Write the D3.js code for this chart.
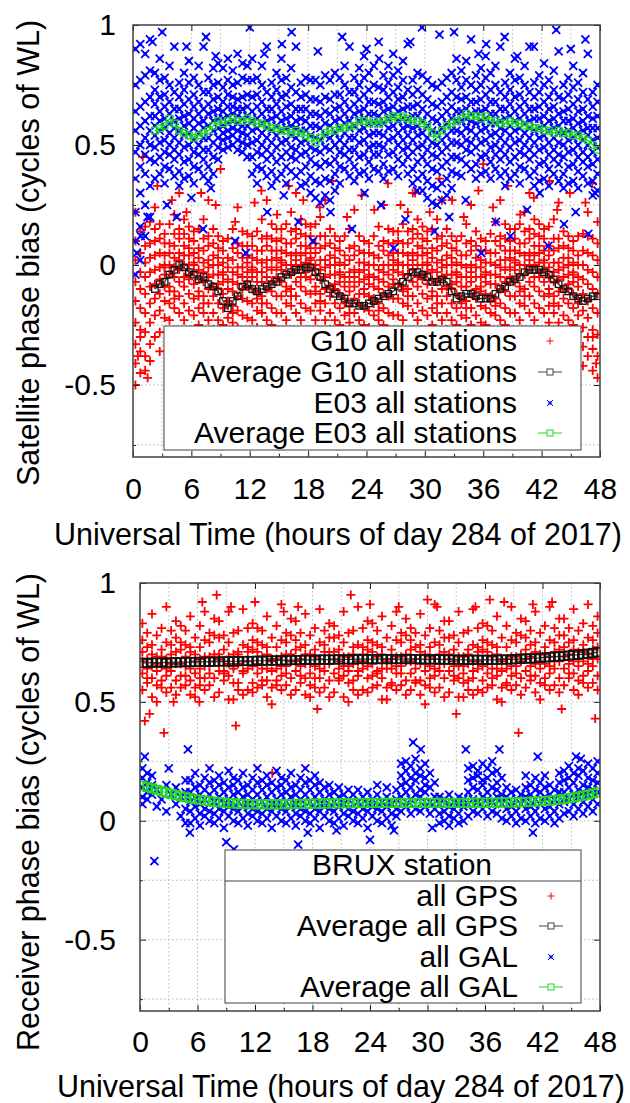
<!DOCTYPE html>
<html>
<head>
<meta charset="utf-8">
<script src="https://cdn.jsdelivr.net/npm/d3@7.9.0/dist/d3.min.js"></script>
<style>
  body { margin: 0; background: #fff; }
  text { font-family: "Liberation Sans", Arial, Helvetica, sans-serif; }
</style>
</head>
<body>
<svg id="chart" width="630" height="1103"></svg>
<script>
// epochs (hours of day 284) shared by every series
const epochs = [0.25,0.75,1.25,1.75,2.25,2.75,3.25,3.75,4.25,4.75,5.25,5.75,
  6.25,6.75,7.25,7.75,8.25,8.75,9.25,9.75,10.25,10.75,11.25,11.75,
  12.25,12.75,13.25,13.75,14.25,14.75,15.25,15.75,16.25,16.75,17.25,17.75,
  18.25,18.75,19.25,19.75,20.25,20.75,21.25,21.75,22.25,22.75,23.25,23.75,
  24.25,24.75,25.25,25.75,26.25,26.75,27.25,27.75,28.25,28.75,29.25,29.75,
  30.25,30.75,31.25,31.75,32.25,32.75,33.25,33.75,34.25,34.75,35.25,35.75,
  36.25,36.75,37.25,37.75,38.25,38.75,39.25,39.75,40.25,40.75,41.25,41.75,
  42.25,42.75,43.25,43.75,44.25,44.75,45.25,45.75,46.25,46.75,47.25,47.75];
const xTicks = [0, 6, 12, 18, 24, 30, 36, 42, 48];
const yTicks = [-0.5, 0, 0.5, 1];

// satellite panel (values in hundredths of a cycle)
const g10Avg = [null,null,null,null,-10,-8,-7,-4,-2,0,-1,-3,
  -4,-6,-5,-8,-9,-11,-15,-18,-15,-13,-9,-8,
  -10,-11,-10,-9,-8,-7,-5,-4,-3,-2,-2,-1,
  -1,-3,-5,-8,-10,-12,-13,-14,-16,-16,-17,-17,
  -16,-15,-14,-13,-12,-11,-9,-7,-5,-3,-3,-4,
  -5,-7,-7,-6,-7,-11,-14,-13,-12,-12,-13,-14,
  -14,-14,-12,-10,-9,-7,-6,-5,-3,-2,-2,-2,
  -3,-4,-6,-8,-10,-11,-13,-14,-15,-14,-13,-13];
const e03Avg = [null,null,null,null,56,57,58,61,59,56,55,54,
  53,54,55,56,58,60,59,60,61,60,60,61,
  60,59,59,58,57,57,56,56,55,56,55,54,
  53,51,53,55,56,56,57,57,58,58,60,60,
  59,60,59,60,61,62,61,62,61,60,60,59,
  58,55,53,56,58,59,60,61,63,62,62,61,
  62,60,60,59,59,60,59,59,58,58,57,57,
  56,56,55,56,55,55,54,54,53,52,50,48];
const g10Rows = [
  [-50,-41,-33,-24,-15,-7,2,10,22],[-45,-36,-27,-18,-10,-3,5,14,-30],[-38,-28,-20,-12,-5,1,8,16,-44],[-33,-24,-16,-9,-3,3,9,18,-40],
  [-30,-21,-14,-8,-2,4,10,15,24],[-28,-19,-12,-6,-1,5,11,17,-36],[-22,-15,-9,-4,0,4,9,13,-1],[-23,-16,-9,-4,0,5,9,17,-11],
  [-18,-11,-5,-1,3,8,13,21,-14],[-20,-13,-7,-2,2,5,11,15,30],[-23,-16,-9,-5,0,4,8,13,19],[-19,-12,-6,0,4,7,11,16,-4],
  [-21,-14,-8,-3,1,5,10,14,0],[-25,-18,-11,-6,-2,3,7,15,-13],[-20,-13,-7,-3,1,6,11,19,-16],[-23,-16,-10,-5,-1,2,8,12,27],
  [-27,-20,-13,-9,-4,0,4,9,15],[-23,-16,-10,-4,0,3,7,12,-8],[-25,-18,-12,-7,-3,1,6,10,-4],[-29,-22,-15,-10,-6,-1,3,11,-17],
  [-24,-17,-11,-7,-3,2,7,15,-20],[-26,-19,-13,-8,-4,-1,5,9,24],[-28,-21,-14,-10,-5,-1,3,8,14],[-22,-15,-9,-3,1,4,8,13,-7],
  [-23,-16,-10,-5,-1,3,8,12,-2],[-26,-19,-12,-7,-3,2,6,14,-14],[-20,-13,-7,-3,1,6,11,19,-16],[-23,-16,-10,-5,-1,2,8,12,27],
  [-25,-18,-11,-7,-2,2,6,11,17],[-20,-13,-7,-1,3,6,10,15,-5],[-20,-13,-7,-2,2,6,11,15,1],[-23,-16,-9,-4,0,5,9,17,-11],
  [-17,-10,-4,0,4,9,14,22,-13],[-20,-13,-7,-2,2,5,11,15,30],[-23,-16,-9,-5,0,4,8,13,19],[-18,-11,-5,1,5,8,12,17,-3],
  [-19,-12,-6,-1,3,7,12,16,2],[-23,-16,-9,-4,0,5,9,17,-11],[-19,-12,-6,-2,2,7,12,20,-15],[-23,-16,-10,-5,-1,2,8,12,27],
  [-27,-20,-13,-9,-4,0,4,9,15],[-23,-16,-10,-4,0,3,7,12,-8],[-25,-18,-12,-7,-3,1,6,10,-4],[-28,-21,-14,-9,-5,0,4,12,-16],
  [-24,-17,-11,-7,-3,2,7,15,-20],[-27,-20,-14,-9,-5,-2,4,8,23],[-30,-23,-16,-12,-7,-3,1,6,12],[-25,-18,-12,-6,-2,1,5,10,-10],
  [-26,-19,-13,-8,-4,0,5,9,-5],[-28,-21,-14,-9,-5,0,4,12,-16],[-23,-16,-10,-6,-2,3,8,16,-19],[-25,-18,-12,-7,-3,0,6,10,25],
  [-27,-20,-13,-9,-4,0,4,9,15],[-21,-14,-8,-2,2,5,9,14,-6],[-21,-14,-8,-3,1,5,10,14,0],[-23,-16,-9,-4,0,5,9,17,-11],
  [-17,-10,-4,0,4,9,14,22,-13],[-20,-13,-7,-2,2,5,11,15,30],[-23,-16,-9,-5,0,4,8,13,19],[-19,-12,-6,0,4,7,11,16,-4],
  [-21,-14,-8,-3,1,5,10,14,0],[-25,-18,-11,-6,-2,3,7,15,-13],[-20,-13,-7,-3,1,6,11,19,-16],[-23,-16,-10,-5,-1,2,8,12,27],
  [-27,-20,-13,-9,-4,0,4,9,15],[-23,-16,-10,-4,0,3,7,12,-8],[-25,-18,-12,-7,-3,1,6,10,-4],[-28,-21,-14,-9,-5,0,4,12,-16],
  [-22,-15,-9,-5,-1,4,9,17,-18],[-25,-18,-12,-7,-3,0,6,10,25],[-28,-21,-14,-10,-5,-1,3,8,14],[-24,-17,-11,-5,-1,2,6,11,-9],
  [-25,-18,-12,-7,-3,1,6,10,-4],[-27,-20,-13,-8,-4,1,5,13,-15],[-21,-14,-8,-4,0,5,10,18,-17],[-23,-16,-10,-5,-1,2,8,12,27],
  [-25,-18,-11,-7,-2,2,6,11,17],[-20,-13,-7,-1,3,6,10,15,-5],[-20,-13,-7,-2,2,6,11,15,1],[-23,-16,-9,-4,0,5,9,17,-11],
  [-17,-10,-4,0,4,9,14,22,-13],[-20,-13,-7,-2,2,5,11,15,30],[-23,-16,-9,-5,0,4,8,13,19],[-18,-11,-5,1,5,8,12,17,-3],
  [-20,-13,-7,-2,2,6,11,15,1],[-24,-17,-10,-5,-1,4,8,16,-12],[-20,-13,-7,-3,1,6,11,19,-16],[-24,-17,-11,-6,-2,1,7,11,26],
  [-28,-21,-14,-10,-5,-1,3,8,14],[-23,-16,-10,-4,0,3,7,12,-8],[-25,-18,-12,-7,-3,1,6,10,-4],[-28,-21,-14,-9,-5,0,4,12,-16],
  [-34,-26,-19,-12,-6,0,6,13,-42],[-38,-30,-22,-15,-8,-2,5,12,22],[-44,-35,-27,-18,-10,-3,4,11,-30],[-47,-38,-29,-20,-12,-5,2,9,18]];
const g10Extra = [[2.5,33],[4,27],[5.5,22],[7,30],[8.5,25],[10.5,18],[12.5,26],[13.2,31],[14.8,21],[16,33],[17.5,27],
  [19.2,24],[20.5,35],[22,20],[23.5,29],[24.8,23],[26.2,34],[27.5,25],[29,30],[30.5,22],[31.5,36],[32.8,27],[34,20],
  [35.5,31],[37,24],[38.5,33],[39.8,21],[41.2,28],[42.8,35],[43.6,23],[44.9,30],[46.5,26],[47.2,34],[1,45],[9,40],
  [36,42],[0.5,-38],[1.5,-47],[47.6,-41]];
const e03Rows = [
  [-4,10,22,36,47,56,64,75,90],[2,16,30,41,50,58,66,77,92],[12,25,38,46,53,60,68,79,88],[20,33,44,50,56,62,70,81,94],
  [36,43,49,54,58,62,67,73,80],[38,45,51,56,60,64,70,77,86],[34,41,47,52,57,61,66,71,78],[40,46,50,55,59,63,68,75,83],
  [37,44,48,53,57,60,65,72,91],[33,39,46,51,56,61,65,70,76],[36,43,49,54,58,62,67,73,80],[37,44,50,55,59,63,69,76,85],
  [34,41,47,52,57,61,66,71,78],[40,46,50,55,59,63,68,75,83],[37,44,48,53,57,60,65,72,91],[35,41,48,53,58,63,67,72,78],
  [38,45,51,56,60,64,69,75,82],[44,49,53,57,61,65,70,76,84],[48,52,55,58,61,64,68,74,82],[49,53,56,59,62,66,71,77,86],
  [50,54,57,60,63,66,70,75,81],[48,52,56,59,62,65,69,76,88],[47,51,55,58,61,65,70,78,84],[45,50,54,58,62,66,71,77,83],
  [38,45,51,56,60,64,70,77,86],[34,41,47,52,57,61,66,71,78],[40,46,50,55,59,63,68,75,83],[37,44,48,53,57,60,65,72,91],
  [33,39,46,51,56,61,65,70,76],[36,43,49,54,58,62,67,73,80],[38,45,51,56,60,64,70,77,86],[34,41,47,52,57,61,66,71,78],
  [39,45,49,54,58,62,67,74,82],[37,44,48,53,57,60,65,72,91],[33,39,46,51,56,61,65,70,76],[34,41,47,52,56,60,65,71,78],
  [30,37,44,49,54,58,63,69,77],[28,35,42,48,53,58,63,69,77],[26,34,41,47,52,57,62,68,75],[29,36,43,49,54,59,64,70,79],
  [27,35,42,48,53,58,63,69,77],[31,38,44,50,55,60,65,71,80],[34,41,47,52,57,61,66,71,78],[40,46,50,55,59,63,68,75,83],
  [37,44,48,53,57,60,65,72,91],[35,41,48,53,58,63,67,72,78],[38,45,51,56,60,64,69,75,82],[39,46,52,57,61,65,71,78,87],
  [36,43,49,54,59,63,68,73,80],[40,46,50,55,59,63,68,75,83],[39,46,50,55,59,62,67,74,93],[36,42,49,54,59,64,68,73,79],
  [39,46,52,57,61,65,70,76,83],[40,47,53,58,62,66,72,79,88],[37,44,50,55,60,64,69,74,81],[42,48,52,57,61,65,70,77,85],
  [38,45,49,54,58,61,66,73,92],[34,40,47,52,57,62,66,71,77],[36,43,49,54,58,62,67,73,80],[31,38,45,50,55,60,65,71,79],
  [28,35,42,48,53,58,63,69,77],[26,33,40,46,51,56,61,67,75],[25,32,39,45,50,55,60,66,74],[27,34,41,47,52,57,62,68,76],
  [29,36,43,49,54,59,64,70,78],[32,39,45,51,56,61,66,72,80],[38,45,51,56,60,64,70,77,86],[37,44,50,55,60,64,69,74,81],
  [42,48,52,57,61,65,70,77,85],[40,47,51,56,60,63,68,75,94],[36,42,49,54,59,64,68,73,79],[38,45,51,56,60,64,69,75,82],
  [39,46,52,57,61,65,71,78,87],[36,43,49,54,59,63,68,73,80],[40,46,50,55,59,63,68,75,83],[37,44,48,53,57,60,65,72,91],
  [33,39,46,51,56,61,65,70,76],[36,43,49,54,58,62,67,73,80],[38,45,51,56,60,64,70,77,86],[34,41,47,52,57,61,66,71,78],
  [40,46,50,55,59,63,68,75,83],[37,44,48,53,57,60,65,72,91],[33,39,46,51,56,61,65,70,76],[35,42,48,53,57,61,66,72,79],
  [36,43,49,54,58,62,68,75,84],[33,40,46,51,56,60,65,70,77],[38,44,48,53,57,61,66,73,81],[35,42,46,51,55,58,63,70,89],
  [32,38,45,50,55,60,64,69,75],[34,41,47,52,56,60,65,71,78],[35,42,48,53,57,61,67,74,83],[32,39,45,50,55,59,64,69,76],
  [37,43,47,52,56,60,65,72,80],[34,41,45,50,54,57,62,69,88],[29,35,42,47,52,57,61,66,72],[31,38,44,49,53,57,62,68,75]];
const e03Extra = [[2,93],[3,97],[5.5,91],[7.5,95],[8.5,87],[12,99],[13.5,88],[15.3,92],[16.3,97],[19,89],[21.5,95],
  [24,90],[25.3,86],[28.5,93],[29.7,99],[31.5,96],[33,97],[35.5,88],[36.3,92],[38.2,95],[39.5,87],[41.2,91],[43.5,98],
  [45,90],[46.5,94],[0.4,5],[0.8,12],[1.5,20],[3.5,25],[4.5,20],[6,28],[7.2,15],[8,32],[10.5,10],[11.6,5],[13.8,22],
  [15.5,29],[17,18],[18.5,10],[20.3,22],[22.5,15],[23.8,30],[25.5,25],[26.8,7],[28,19],[29.2,31],[31,14],[32.5,20],
  [34.2,27],[35.8,5],[37.3,18],[38.8,12],[40.5,23],[41.8,30],[42.7,8],[44.3,17],[45.5,22],[46.8,13],[47.5,30]];

// BRUX receiver panel (values in hundredths of a cycle)
const gpsAvg = [66.4,66.4,66.5,66.5,66.5,66.6,66.6,66.6,66.7,66.7,66.7,66.8,
  66.8,66.8,66.9,66.9,67.0,67.0,67.0,67.1,67.1,67.2,67.2,67.2,
  67.3,67.3,67.4,67.4,67.4,67.5,67.5,67.6,67.6,67.6,67.7,67.7,
  67.7,67.8,67.8,67.8,67.8,67.9,67.9,67.9,67.9,68.0,68.0,68.0,
  68.0,68.0,68.0,68.0,68.0,68.0,68.0,68.0,68.0,68.0,68.0,67.9,
  67.9,67.9,67.9,67.8,67.8,67.8,67.8,67.7,67.7,67.7,67.7,67.7,
  67.7,67.7,67.7,67.8,67.8,67.9,68.0,68.1,68.2,68.3,68.4,68.5,
  68.7,68.8,69.0,69.1,69.3,69.5,69.7,69.9,70.1,70.3,70.6,70.9];
const galAvg = [14.8,14.2,13.6,13.0,12.4,11.8,11.3,10.8,10.3,9.9,9.5,9.1,
  8.8,8.5,8.2,8.0,7.8,7.6,7.4,7.3,7.2,7.1,7.0,7.0,
  6.9,6.9,6.9,6.9,6.9,7.0,7.0,7.0,7.1,7.1,7.1,7.2,
  7.2,7.2,7.3,7.3,7.3,7.4,7.4,7.4,7.4,7.5,7.5,7.5,
  7.5,7.5,7.5,7.5,7.5,7.5,7.5,7.5,7.5,7.5,7.5,7.5,
  7.5,7.5,7.5,7.5,7.5,7.5,7.5,7.5,7.5,7.6,7.6,7.6,
  7.6,7.6,7.6,7.7,7.7,7.7,7.8,7.8,7.9,8.0,8.1,8.2,
  8.3,8.5,8.7,8.9,9.2,9.5,9.8,10.2,10.6,11.0,11.5,12.0];
const gpsRows = [
  [55,62,67,71,76,83],[58,64,68,73,79,60],[52,60,65,70,74,87],[57,63,66,69,78,50],[59,65,69,72,81,56],[54,61,64,68,75,90],[56,63,70,74,80,66],[53,59,66,71,77,84],
  [56,61,66,72,75,82],[57,65,69,74,80,61],[53,59,64,71,73,86],[56,62,67,70,77,52],[60,64,68,73,82,57],[55,60,65,69,76,88],[57,62,69,75,79,65],[52,60,67,70,78,85],
  [54,63,68,70,77,84],[59,63,67,72,78,62],[51,61,66,69,75,88],[58,64,65,70,79,51],[58,66,70,71,80,55],[53,62,63,67,74,89],[55,64,71,73,81,67],[54,58,65,72,76,83],
  [56,62,66,71,75,81],[57,64,69,74,80,59],[52,59,64,70,73,86],[56,63,67,68,77,49],[59,64,68,73,82,57],[55,61,65,69,76,91],[57,62,70,75,79,65],[53,60,67,70,78,85],
  [55,63,67,72,76,84],[58,65,68,73,79,61],[53,60,66,70,74,87],[57,62,66,70,78,52],[60,65,69,72,81,56],[54,60,64,68,75,89],[56,63,71,74,80,66],[52,59,66,71,77,83],
  [54,62,68,71,77,82],[59,64,67,72,78,60],[52,61,65,69,75,88],[58,63,65,69,79,50],[59,66,70,73,80,55],[53,61,63,67,74,90],[55,64,70,73,81,67],[54,60,65,72,76,84],
  [56,61,66,71,75,83],[57,63,69,74,80,62],[51,60,64,70,73,86],[56,64,67,68,77,51],[58,64,68,72,82,57],[55,62,65,69,76,88],[57,62,69,75,79,65],[53,59,67,70,78,85],
  [55,62,67,72,76,81],[58,64,68,73,79,59],[53,59,66,71,74,87],[57,63,66,70,78,49],[60,65,69,73,81,56],[54,61,64,68,75,91],[56,63,70,74,80,66],[52,60,66,71,77,84],
  [54,63,68,70,77,84],[59,65,67,72,78,61],[52,60,65,69,75,88],[58,62,65,69,79,52],[59,66,70,72,80,55],[53,60,63,67,74,89],[55,64,71,73,81,67],[54,59,65,72,76,83],
  [56,62,66,71,75,82],[57,64,69,74,80,60],[51,61,64,70,73,86],[56,63,67,68,77,50],[58,64,68,73,82,57],[55,61,65,69,76,90],[57,62,69,75,79,65],[53,60,67,70,78,85],
  [56,63,68,72,77,84],[59,65,69,74,80,61],[54,61,66,71,75,88],[58,64,67,70,79,51],[60,66,70,73,82,57],[55,62,65,69,76,90],[57,64,71,75,81,67],[54,60,67,72,78,85],
  [57,64,69,73,78,85],[60,66,70,75,81,62],[55,62,67,72,76,89],[59,65,68,71,80,53],[61,67,71,74,83,58],[56,63,66,70,77,91],[58,65,72,76,82,68],[55,61,68,73,79,86]];
const gpsExtra = [[0.5,42],[1,45],[2.5,37],[3.5,50],[6.2,50],[6.5,92],[8,95],[9.5,90],[10,40],[12,92],[13.8,20],
  [15,88],[16.5,90],[18.5,47],[22,95],[24,91],[27,90],[30,93],[31,90],[33,45],[35,90],[36.5,93],[38,92],[39.5,37],
  [41,91],[43,92],[44,47],[47.5,43]];
const galRows = [
  [10,14,18,22,7],[12,16,20,9],[11,15,19],[6,13],[9],[4,15],[11],[7,14],[2,10],[-1,5,12,17],
  [-1,4,8,12,17],[1,6,10,14,20],[-2,3,7,11,15],[2,5,9,13,18],[0,4,11,16,22],[-1,3,8,13,17],[1,5,10,15,19],[-3,4,7,12,16],
  [2,6,9,14,21],[0,5,11,15,18],[-1,4,8,12,17],[1,6,10,14,20],[-2,3,7,11,15],[2,5,9,13,18],[0,4,11,16,22],[-1,3,8,13,17],
  [1,5,10,15,19],[-3,4,7,12,16],[2,6,9,14,21],[0,5,11,15,18],[-1,4,8,12,17],[1,6,10,14,20],[-2,3,7,11,15],[2,5,9,13,18],
  [0,4,11,16,22],[-1,3,8,13,17],[1,5,10,15,19],[-3,4,7,12,16],[2,6,9,14],[0,5,11,15],[-1,4,8,12],[1,6,10,14],
  [-2,3,7,11],[2,5,9,13],[0,4,11],[-1,3,8,13],[1,5,10],[-3,4,7,12],[2,6,9],[0,5,11,15],
  [-1,4,8],[1,6,10,14],[-2,3,7],[2,5,9,13],[4,10,15,19,24],[6,12,16,21,25],[3,9,14,18,23],[5,11,17,20,26],
  [4,10,13,19,22],[6,12,15,18,24],[3,8,14,20],[5,10,16],[-1,3,7,10],[0,4,9],[-2,2,6,11],[1,5,8],
  [-1,3,7,10],[0,6,9],[2,7,12,17,22],[4,9,14,18,23],[3,8,13,19,21],[5,10,15,17,24],[2,9,12,18,22],[4,8,14,20,25],
  [3,10,13,16,21],[1,7,11,18],[0,5,10,14],[2,6,12],[-1,4,9,13],[1,7,11],[0,5,10,14,19],[2,6,11,15],
  [-1,4,9,13,18],[1,7,12,16],[0,5,10,14,19],[2,6,11,15],[-1,4,9,13],[1,7,12,16,20],[3,8,12,17,21],[4,9,14,18,23],
  [2,7,11,16,20],[5,10,13,19,22],[3,8,12,15,21],[6,11,14,18,24],[4,9,13,17,22],[7,12,16,20,25]];
const galExtra = [[0.5,27],[1.5,-17],[5,30],[5.2,-5],[9,-9],[9.8,-12],[16.5,-10],[17.5,-5],[20.5,-4],[24,-8],
  [26.5,-4],[28.5,33],[29.3,30],[34,30],[37.5,30],[41,-5],[41.5,27],[45.5,27],[46,26],[3,22],[30.5,-3]];

const legendTop = ['G10 all stations', 'Average G10 all stations', 'E03 all stations', 'Average E03 all stations'];
const legendBottom = ['all GPS', 'Average all GPS', 'all GAL', 'Average all GAL'];

const RED = '#ff0000', BLUE = '#0000ff', GREEN = '#22d822', DARK = '#111111', FRAME = '#404040';
const svg = d3.select('#chart');

const plus = (x, y, s) => `M${x - s},${y}H${x + s}M${x},${y - s}V${y + s}`;
const cross = (x, y, s) => `M${x - s},${y - s}L${x + s},${y + s}M${x - s},${y + s}L${x + s},${y - s}M${x - 1},${y - 1}h2v2h-2z`;

function scatterPoints(rows, extra) {
  const pts = [];
  rows.forEach((vals, i) => vals.forEach(v => pts.push([epochs[i], v / 100])));
  extra.forEach(([h, v]) => pts.push([h, v / 100]));
  return pts;
}
function avgPoints(vals) {
  return vals.map((v, i) => [epochs[i], v]).filter(d => d[1] != null).map(d => [d[0], d[1] / 100]);
}

function drawPanel(cfg) {
  const { left, right, top, bottom } = cfg;
  const x = d3.scaleLinear().domain([0, 48]).range([left, right]);
  const y = d3.scaleLinear().domain([-0.8, 1]).range([bottom, top]);
  const g = svg.append('g');

  g.append('clipPath').attr('id', 'clip' + cfg.id).append('rect')
    .attr('x', left).attr('y', top).attr('width', right - left).attr('height', bottom - top);

  // dotted grid every 3 h and every 0.25 cycle
  const grid = g.append('g').attr('stroke', '#b8b8b8').attr('stroke-dasharray', '1.5,2.5');
  grid.selectAll('.gx').data(d3.range(3, 48, 3)).join('line').attr('class', 'gx')
    .attr('x1', d => x(d)).attr('x2', d => x(d)).attr('y1', top).attr('y2', bottom);
  grid.selectAll('.gy').data(d3.range(-0.75, 1, 0.25)).join('line').attr('class', 'gy')
    .attr('y1', d => y(d)).attr('y2', d => y(d)).attr('x1', left).attr('x2', right);

  const plot = g.append('g').attr('clip-path', `url(#clip${cfg.id})`);
  const drawScatter = (pts, color, shape, s, w) => plot.append('g')
    .attr('stroke', color).attr('fill', 'none').attr('stroke-width', w)
    .selectAll('path').data(pts).join('path')
    .attr('d', d => shape(x(d[0]), y(d[1]), s));
  const drawAvg = (pts, color, lineColor, sq, w) => {
    const a = plot.append('g');
    a.append('path').datum(pts).attr('fill', 'none').attr('stroke', lineColor).attr('stroke-width', 1.2)
      .attr('d', d3.line().x(d => x(d[0])).y(d => y(d[1])));
    a.selectAll('rect').data(pts).join('rect')
      .attr('x', d => x(d[0]) - sq / 2).attr('y', d => y(d[1]) - sq / 2)
      .attr('width', sq).attr('height', sq)
      .attr('fill', 'none').attr('stroke', color).attr('stroke-width', w);
  };
  drawScatter(cfg.series[0], RED, plus, 4.5, 1.8);
  drawAvg(cfg.series[1], DARK, '#333', cfg.sq, cfg.sqW);
  drawScatter(cfg.series[2], BLUE, cross, 4, 1.8);
  drawAvg(cfg.series[3], GREEN, GREEN, cfg.sq, cfg.sqW);

  // axes with inward ticks on all four sides
  const fmt = d => String(d);
  const ax = g.append('g').attr('color', '#222');
  ax.append('g').attr('transform', `translate(0,${bottom})`)
    .call(d3.axisBottom(x).tickValues(xTicks).tickFormat(fmt).tickSizeInner(-6).tickSizeOuter(0).tickPadding(cfg.xPad));
  ax.append('g').attr('transform', `translate(0,${bottom})`)
    .call(d3.axisBottom(x).tickValues(d3.range(3, 48, 6)).tickFormat('').tickSizeInner(-3).tickSizeOuter(0));
  ax.append('g').attr('transform', `translate(0,${top})`)
    .call(d3.axisTop(x).tickValues(xTicks).tickFormat('').tickSizeInner(-6).tickSizeOuter(0));
  ax.append('g').attr('transform', `translate(${left},0)`)
    .call(d3.axisLeft(y).tickValues(yTicks).tickFormat(fmt).tickSizeInner(-6).tickSizeOuter(0).tickPadding(cfg.yPad));
  ax.append('g').attr('transform', `translate(${left},0)`)
    .call(d3.axisLeft(y).tickValues([-0.75, -0.25, 0.25, 0.75]).tickFormat('').tickSizeInner(-3).tickSizeOuter(0));
  ax.append('g').attr('transform', `translate(${right},0)`)
    .call(d3.axisRight(y).tickValues(yTicks).tickFormat('').tickSizeInner(-6).tickSizeOuter(0));
  ax.selectAll('.domain').remove();
  ax.selectAll('text').attr('font-size', 30).attr('fill', '#000');

  g.append('rect').attr('x', left).attr('y', top).attr('width', right - left).attr('height', bottom - top)
    .attr('fill', 'none').attr('stroke', FRAME).attr('stroke-width', 1.5);

  g.append('text').attr('transform', `translate(28,${cfg.yTitleY}) rotate(-90)`)
    .attr('text-anchor', 'middle').attr('dy', '0.36em').attr('font-size', 30.5).text(cfg.yTitle);
  g.append('text').attr('x', cfg.xTitleX).attr('y', cfg.xTitleY)
    .attr('text-anchor', 'middle').attr('font-size', 30.5).text('Universal Time (hours of day 284 of 2017)');

  // opaque key box
  const L = cfg.legend;
  const key = g.append('g');
  key.append('rect').attr('x', L.x0).attr('y', L.y0).attr('width', L.x1 - L.x0).attr('height', L.y1 - L.y0)
    .attr('fill', '#fff').attr('stroke', FRAME).attr('stroke-width', 1);
  if (L.header) {
    key.append('text').attr('x', (L.x0 + L.x1) / 2 - 1).attr('y', L.headerY).attr('text-anchor', 'middle')
      .attr('font-size', 30).text(L.header);
    key.append('line').attr('x1', L.x0).attr('x2', L.x1).attr('y1', L.sepY).attr('y2', L.sepY)
      .attr('stroke', FRAME).attr('stroke-width', 1);
  }
  L.labels.forEach((label, i) => {
    const by = L.rows[i], cy = by - 10, sx = L.sampleX;
    key.append('text').attr('x', L.textX).attr('y', by).attr('text-anchor', 'end').attr('font-size', 30).text(label);
    if (i === 0) key.append('path').attr('d', plus(sx, cy, 3.5)).attr('stroke', RED).attr('fill', 'none');
    if (i === 2) key.append('path').attr('d', cross(sx, cy, 3)).attr('stroke', BLUE).attr('fill', 'none');
    if (i === 1 || i === 3) {
      const c = i === 1 ? '#444' : GREEN;
      key.append('line').attr('x1', sx - 12).attr('x2', sx + 12).attr('y1', cy).attr('y2', cy).attr('stroke', c);
      key.append('rect').attr('x', sx - 3).attr('y', cy - 3).attr('width', 6).attr('height', 6)
        .attr('fill', '#fff').attr('stroke', c);
    }
  });
}

drawPanel({
  id: 'a', left: 133, right: 600, top: 25, bottom: 457, xPad: 21, yPad: 17, sq: 6.5, sqW: 1.3,
  yTitle: 'Satellite phase bias (cycles of WL)', yTitleY: 253, xTitleX: 338, xTitleY: 545,
  series: [scatterPoints(g10Rows, g10Extra), avgPoints(g10Avg), scatterPoints(e03Rows, e03Extra), avgPoints(e03Avg)],
  legend: { x0: 164, y0: 326, x1: 581, y1: 450, textX: 517, sampleX: 550, rows: [351, 382, 413, 443], labels: legendTop }
});
drawPanel({
  id: 'b', left: 140, right: 600, top: 583, bottom: 1011, xPad: 20, yPad: 24, sq: 8.5, sqW: 1.6,
  yTitle: 'Receiver phase bias (cycles of WL)', yTitleY: 812, xTitleX: 341, xTitleY: 1097,
  series: [scatterPoints(gpsRows, gpsExtra), avgPoints(gpsAvg), scatterPoints(galRows, galExtra), avgPoints(galAvg)],
  legend: { x0: 225, y0: 850, x1: 581, y1: 1003, header: 'BRUX station', headerY: 875, sepY: 881,
    textX: 518, sampleX: 551, rows: [906, 936, 967, 997], labels: legendBottom }
});
</script>
</body>
</html>
